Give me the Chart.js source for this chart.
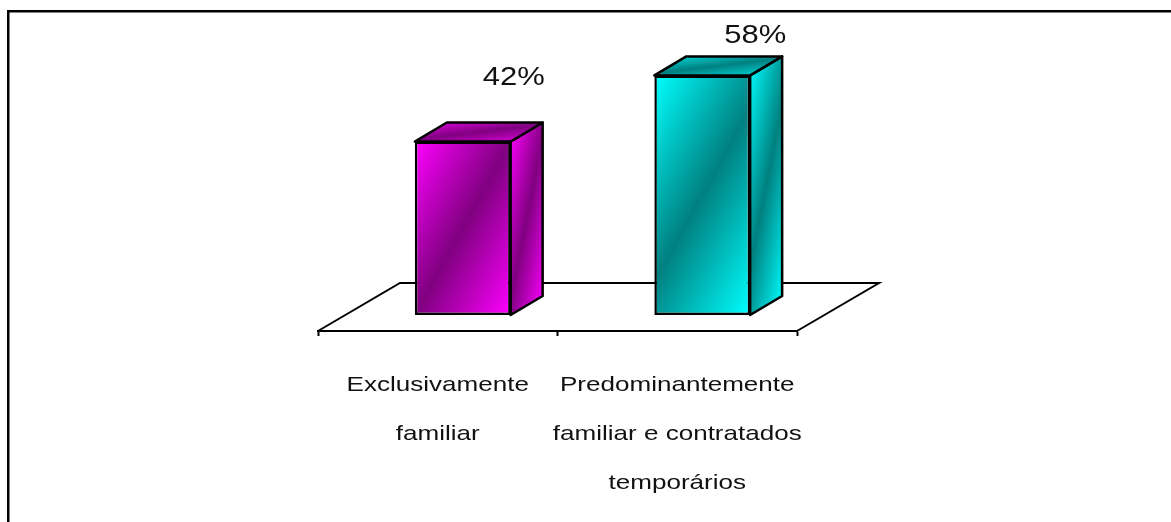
<!DOCTYPE html>
<html>
<head>
<meta charset="utf-8">
<style>
    html, body { margin: 0; padding: 0; background: #fff; }
    canvas { display: block; }
</style>
<script src="https://cdn.jsdelivr.net/npm/chart.js@4/dist/chart.umd.js"></script>
</head>
<body>
<canvas id="chart" width="1171" height="522"></canvas>
<script>
const categories = [
    ['Exclusivamente', 'familiar'],
    ['Predominantemente', 'familiar e contratados', 'temporários']
];
const values = [42, 58];
const brightColors = ['#ff00ff', '#00ffff'];
const darkColors = ['#800080', '#008080'];
const labelLift = [64, 40];
const labelSlide = [51, 53];

const FONT = '"Liberation Sans", Arial, sans-serif';
const BAR_SHIFT = 25;      // bars stand inside the floor, not on its front edge
const DEPTH_X = 32, DEPTH_Y = 19;
const FLOOR_X = 82, FLOOR_Y = 48;
const TEXT_STRETCH = 1.24; // the original text is wider than it is tall
const VALUE_STRETCH = 1.19;

// Linear gradient through a centre point, dark band in the middle
function bandGradient(ctx, cx, cy, nx, ny, half, bright, dark) {
    const g = ctx.createLinearGradient(cx - nx * half, cy - ny * half, cx + nx * half, cy + ny * half);
    g.addColorStop(0, bright);
    g.addColorStop(0.5, dark);
    g.addColorStop(1, bright);
    return g;
}

function fillFace(ctx, points, fill) {
    ctx.beginPath();
    points.forEach((p, i) => i ? ctx.lineTo(p[0], p[1]) : ctx.moveTo(p[0], p[1]));
    ctx.closePath();
    ctx.fillStyle = fill;
    ctx.fill();
    ctx.stroke();
}

const bar3d = {
    id: 'bar3d',
    afterLayout(chart) {
        // Stretch the tick labels sideways the same way as the value labels
        const scale = chart.scales.x;
        const drawLabels = scale.drawLabels;
        scale.drawLabels = function (area) {
            const items = this.getLabelItems(area);
            if (!items.stretched) {
                items.forEach(item => {
                    item.options.translation[0] /= TEXT_STRETCH;
                });
                items.stretched = true;
            }
            chart.ctx.save();
            chart.ctx.scale(TEXT_STRETCH, 1);
            drawLabels.call(this, area);
            chart.ctx.restore();
        };
    },
    beforeDraw(chart) {
        // Frame: only top and left edges exist in the original
        const ctx = chart.ctx;
        ctx.fillStyle = '#000';
        ctx.fillRect(7, 10, chart.width - 7, 2.5);
        ctx.fillRect(7, 10, 2.5, chart.height - 10);
    },
    beforeDatasetsDraw(chart) {
        const ctx = chart.ctx;
        const area = chart.chartArea;
        ctx.save();
        ctx.strokeStyle = '#000';
        ctx.lineWidth = 2;

        // Floor
        ctx.beginPath();
        ctx.moveTo(area.left, area.bottom);
        ctx.lineTo(area.left + FLOOR_X, area.bottom - FLOOR_Y);
        ctx.lineTo(area.right + FLOOR_X, area.bottom - FLOOR_Y);
        ctx.lineTo(area.right, area.bottom);
        ctx.stroke();

        // Side and top faces of each bar
        ctx.lineWidth = 2.5;
        ctx.lineJoin = 'round';
        chart.getDatasetMeta(0).data.forEach((bar, i) => {
            const left = bar.x - bar.width / 2 + BAR_SHIFT;
            const right = bar.x + bar.width / 2 + BAR_SHIFT;
            const top = bar.y;
            const base = bar.base;
            const bright = brightColors[i];
            const dark = darkColors[i];
            const sideHalf = 15.7 + (base - top + DEPTH_Y) / 2 * 0.196;

            fillFace(ctx, [
                [right, top], [right + DEPTH_X, top - DEPTH_Y],
                [right + DEPTH_X, base - DEPTH_Y], [right, base]
            ], bandGradient(ctx, right + DEPTH_X / 2, (top + base - DEPTH_Y) / 2, 0.98, 0.196, sideHalf, bright, dark));

            fillFace(ctx, [
                [left, top], [left + DEPTH_X, top - DEPTH_Y],
                [right + DEPTH_X, top - DEPTH_Y], [right, top]
            ], bandGradient(ctx, (left + right + DEPTH_X) / 2, top - DEPTH_Y / 2, 0.12, 0.99, 22, bright, dark));
        });
        ctx.restore();
    },
    beforeDatasetDraw(chart) {
        chart.ctx.save();
        chart.ctx.translate(BAR_SHIFT, 0);
    },
    afterDatasetDraw(chart) {
        chart.ctx.restore();
    },
    afterDatasetsDraw(chart) {
        // Value labels sit where they were placed by hand in the original
        const ctx = chart.ctx;
        ctx.save();
        ctx.font = '26px ' + FONT;
        ctx.fillStyle = '#111';
        ctx.textAlign = 'center';
        ctx.textBaseline = 'middle';
        chart.getDatasetMeta(0).data.forEach((bar, i) => {
            ctx.save();
            ctx.translate(bar.x + BAR_SHIFT + labelSlide[i], bar.y - labelLift[i]);
            ctx.scale(VALUE_STRETCH, 1);
            ctx.fillText(values[i] + '%', 0, 0);
            ctx.restore();
        });
        ctx.restore();
    }
};

new Chart(document.getElementById('chart'), {
    type: 'bar',
    data: {
        labels: categories,
        datasets: [{
            data: values,
            borderColor: '#000',
            borderWidth: 2.5,
            borderSkipped: false,
            barPercentage: 1,
            categoryPercentage: 0.4,
            backgroundColor: function (context) {
                const chart = context.chart;
                const i = context.dataIndex;
                if (!chart.chartArea || i === undefined) {
                    return brightColors[0];
                }
                const barTop = chart.scales.y.getPixelForValue(values[i]);
                const barBase = chart.scales.y.getPixelForValue(0);
                const cx = chart.scales.x.getPixelForValue(i);
                const cy = (barTop + barBase) / 2;
                const half = 48 * 0.874 + (barBase - barTop) / 2 * 0.486;
                if (!isFinite(cx + cy + half)) {
                    return brightColors[i];
                }
                return bandGradient(chart.ctx, cx, cy, 0.874, 0.486, half, brightColors[i], darkColors[i]);
            }
        }]
    },
    options: {
        responsive: false,
        animation: false,
        layout: {
            padding: { left: 318, right: 374, top: 13, bottom: 0 }
        },
        plugins: {
            legend: { display: false },
            title: { display: false },
            tooltip: { enabled: false }
        },
        scales: {
            x: {
                afterFit: function (scale) {
                    scale.height = 191;
                },
                border: { color: '#000', width: 2 },
                grid: { color: '#000', drawOnChartArea: false, tickLength: 5, tickWidth: 2 },
                ticks: {
                    color: '#111',
                    maxRotation: 0,
                    autoSkip: false,
                    padding: 25,
                    font: { family: FONT, size: 21, lineHeight: 2.33 }
                }
            },
            y: {
                display: false,
                min: -3.87,
                max: 73.1
            }
        }
    },
    plugins: [bar3d]
});
</script>
</body>
</html>
